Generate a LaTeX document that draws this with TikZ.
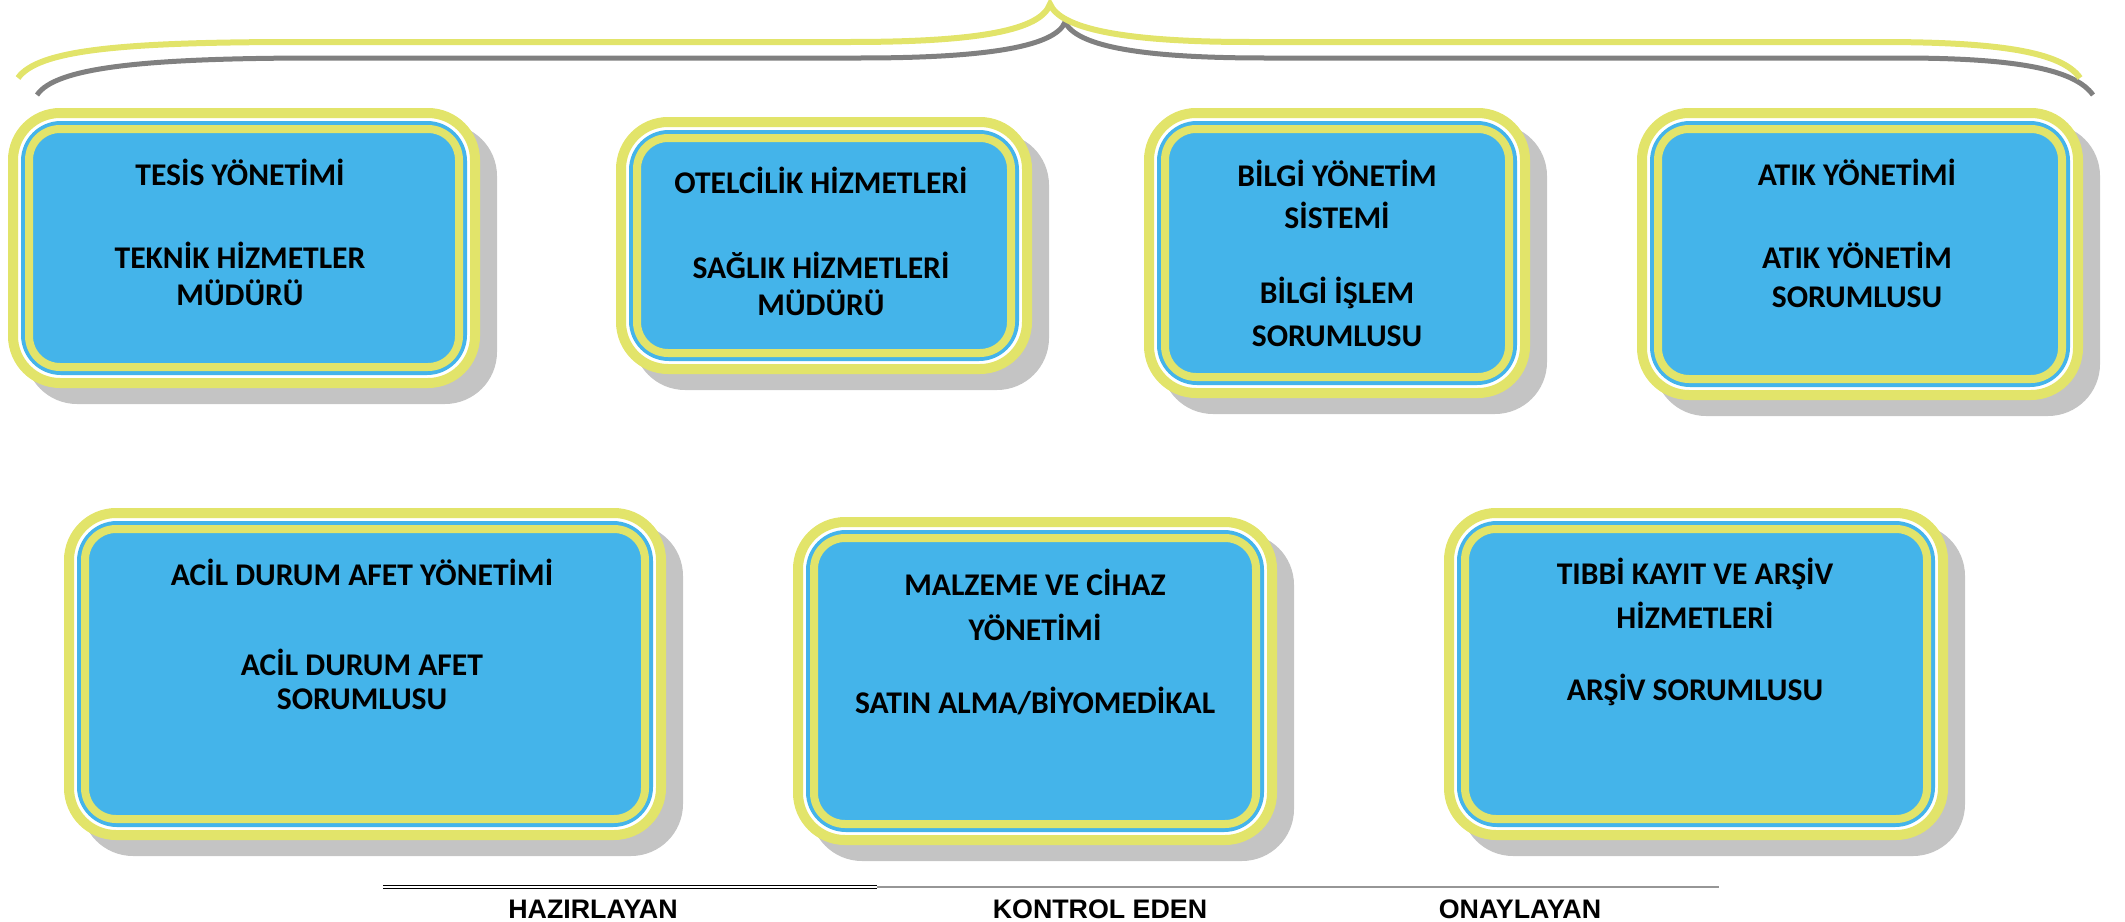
\documentclass[tikz,border=0pt]{standalone}
\usepackage{fontspec}
\newfontfamily\carl{Carlito}
\newfontfamily\libsans{Liberation Sans}
\definecolor{yel}{RGB}{226,228,106}
\definecolor{skyb}{RGB}{68,180,234}
\definecolor{shad}{RGB}{196,196,196}
\definecolor{bracegray}{RGB}{128,128,128}
\definecolor{rulegray}{RGB}{150,150,150}
\newcommand\boxfont{\carl\bfseries\fontsize{15.8pt}{19pt}\selectfont}
\newcommand\sigfont{\libsans\bfseries\fontsize{13.4pt}{15pt}\selectfont}
\tikzset{
  shadowbox/.style={fill=shad, rounded corners=26pt},
  outerring/.style={draw=yel, line width=5pt, fill=white, rounded corners=23.5pt},
  bluering/.style={draw=skyb, line width=2pt, fill=skyb, rounded corners=19pt},
  innerring/.style={draw=yel, line width=4pt, rounded corners=15.5pt},
  lbl/.style={font=\boxfont, anchor=base, inner sep=0pt, text=black},
  sig/.style={font=\sigfont, anchor=base, inner sep=0pt, text=black},
  bracey/.style={draw=yel, line width=3pt},
  braceg/.style={draw=bracegray, line width=2.5pt},
  dblrule/.style={draw=black, double=white, double distance=0.9pt, line width=0.75pt},
  grayrule/.style={draw=rulegray, line width=1.4pt},
}
\newcommand\orgbox[5]{%
  \path[shadowbox] ({#1+17},{#2+16}) rectangle ({#3+17},{#4+16});
  \path[outerring] ({#1+5},{#2+5}) rectangle ({#3-5},{#4-5});
  \path[bluering] ({#1+15},{#2+15}) rectangle ({#3-15},{#4-15});
  \path[innerring] ({#1+21},{#2+21}) rectangle ({#3-21},{#4-21});
  \coordinate (#5) at ({(#1+#3)/2},{(#2+#4)/2});
}
\begin{document}
\begin{tikzpicture}[x=0.5pt, y=-0.5pt]
\useasboundingbox (0,0) rectangle (2125,921);

% brace
\path[braceg] (37,95) .. controls (55,68) and (140,58) .. (320,58) -- (860,58)
  .. controls (995,58) and (1056,45) .. (1065,22)
  .. controls (1076,45) and (1135,58) .. (1265,58) -- (1900,58)
  .. controls (2020,58) and (2075,70) .. (2093,95);
\path[bracey] (18,78) .. controls (38,50) and (120,42) .. (300,42) -- (850,42)
  .. controls (980,42) and (1041,30) .. (1050,4)
  .. controls (1060,28) and (1120,42) .. (1250,42) -- (1880,42)
  .. controls (2000,42) and (2062,52) .. (2080,78);

% boxes
\orgbox{8}{108}{480}{388}{b1}
\orgbox{616}{117}{1032}{374}{b2}
\orgbox{1144}{108}{1530}{398}{b3}
\orgbox{1637}{108}{2083}{400}{b4}
\orgbox{64}{508}{666}{840}{b5}
\orgbox{793}{517}{1277}{845}{b6}
\orgbox{1444}{508}{1948}{840}{b7}

% texts
\node[lbl] (t1a) at (240,185) {TESİS YÖNETİMİ};
\node[lbl] (t1b) at (240,268) {TEKNİK HİZMETLER};
\node[lbl] (t1c) at (240,305) {MÜDÜRÜ};

\node[lbl] (t2a) at (821,193) {OTELCİLİK HİZMETLERİ};
\node[lbl] (t2b) at (821,278) {SAĞLIK HİZMETLERİ};
\node[lbl] (t2c) at (821,315) {MÜDÜRÜ};

\node[lbl] (t3a) at (1337,186) {BİLGİ YÖNETİM};
\node[lbl] (t3b) at (1337,228) {SİSTEMİ};
\node[lbl] (t3c) at (1337,303) {BİLGİ İŞLEM};
\node[lbl] (t3d) at (1337,346) {SORUMLUSU};

\node[lbl] (t4a) at (1857,185) {ATIK YÖNETİMİ};
\node[lbl] (t4b) at (1857,268) {ATIK YÖNETİM};
\node[lbl] (t4c) at (1857,307) {SORUMLUSU};

\node[lbl] (t5a) at (362,585) {ACİL DURUM AFET YÖNETİMİ};
\node[lbl] (t5b) at (362,675) {ACİL DURUM AFET};
\node[lbl] (t5c) at (362,709) {SORUMLUSU};

\node[lbl] (t6a) at (1035,595) {MALZEME VE CİHAZ};
\node[lbl] (t6b) at (1035,640) {YÖNETİMİ};
\node[lbl] (t6c) at (1035,713) {SATIN ALMA/BİYOMEDİKAL};

\node[lbl] (t7a) at (1695,584) {TIBBİ KAYIT VE ARŞİV};
\node[lbl] (t7b) at (1695,628) {HİZMETLERİ};
\node[lbl] (t7c) at (1695,700) {ARŞİV SORUMLUSU};

% signature rule
\coordinate (r0) at (383,887);
\coordinate (r1) at (877,887);
\coordinate (r2) at (1719,887);
\path[dblrule] (r0) -- (r1);
\path[grayrule] (r1) -- (r2);

\node[sig] (s1) at (593,918) {HAZIRLAYAN};
\node[sig] (s2) at (1100,918) {KONTROL EDEN};
\node[sig] (s3) at (1520,918) {ONAYLAYAN};
\end{tikzpicture}
\end{document}
